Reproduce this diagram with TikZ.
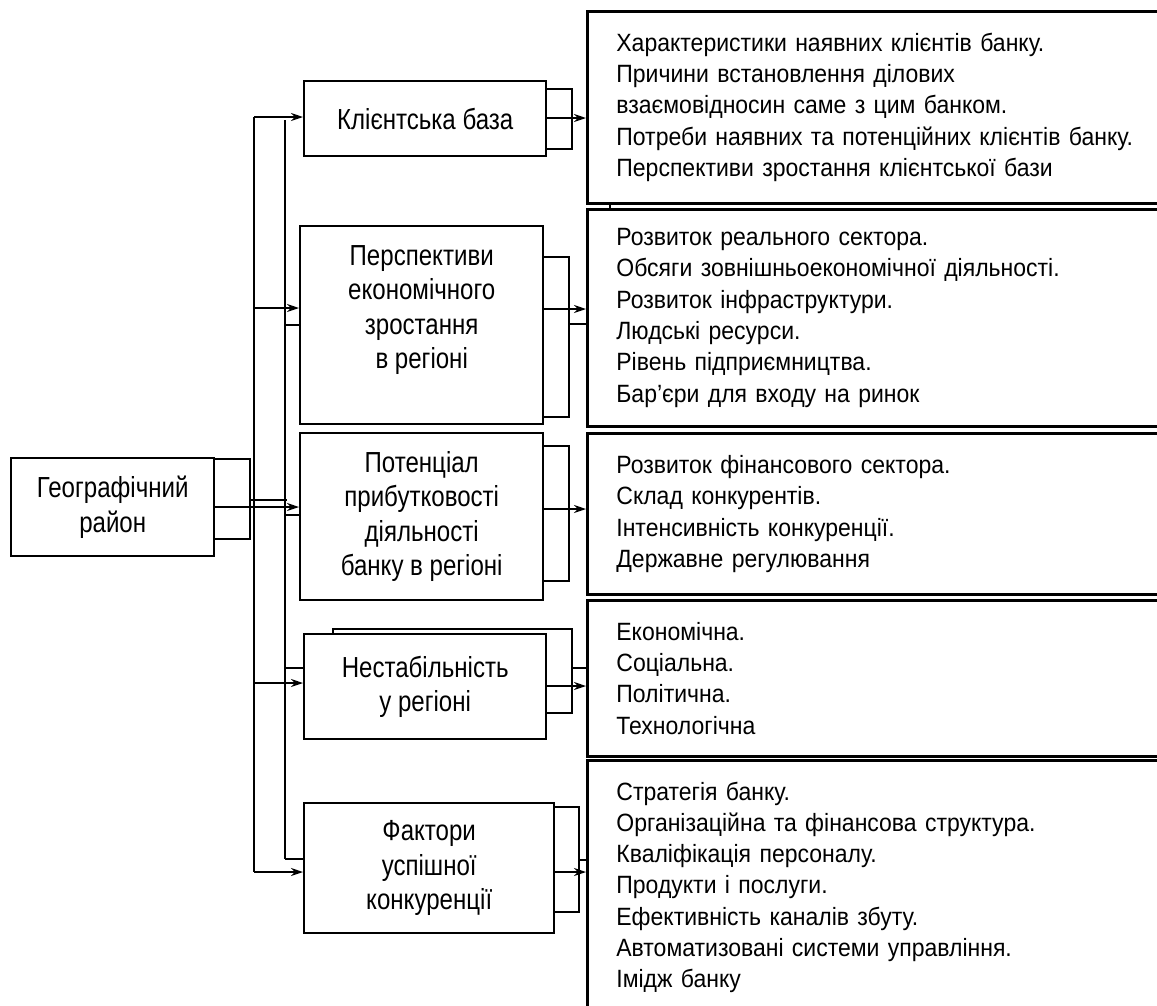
\documentclass[tikz,border=0pt]{standalone}
\usepackage{fontspec}
\setmainfont{Liberation Sans}
\newfontfamily\listfont[FakeStretch=0.92]{Liberation Sans}
\newfontfamily\boxfont[FakeStretch=0.83]{Liberation Sans}
\usetikzlibrary{arrows.meta}

\begin{document}
\begin{tikzpicture}[x=1pt,y=-1pt,line width=2.4pt,
  mbox/.style n args={2}{draw,rectangle,anchor=north west,minimum width=#1,minimum height=#2,inner sep=0pt,align=center,font=\boxfont\fontsize{29pt}{34.5pt}\selectfont},
  lbox/.style n args={1}{draw,rectangle,anchor=north west,line width=2.8pt,minimum width=590,minimum height=#1,text width=532,inner xsep=26pt,inner ysep=0pt,align=left,font=\listfont\fontsize{25pt}{31.3pt}\selectfont},
  arr/.style={-{Stealth[length=12pt,width=8pt,inset=4pt]}}]
\useasboundingbox (0,0) rectangle (1157,1005);
\clip (0,0) rectangle (1157,1005);
% left box and factor boxes
\node[mbox={203}{98}](geo) at(10,457) {Географічний\\район};
\node[mbox={242}{75}](cb) at(303,80) {Клієнтська база};
\node[mbox={243}{198}](ps) at(299,225) {Перспективи\\економічного\\зростання\\в регіоні\\[2pt]};
\node[mbox={243}{167}](pt) at(299,432) {Потенціал\\прибутковості\\діяльності\\банку в регіоні};
\node[mbox={242}{105}](ns) at(303,633) {Нестабільність\\у регіоні};
\node[mbox={250}{130}](fk) at(303,802) {Фактори\\успішної\\конкуренції};
% lists
\node[lbox={192}](ta) at(586,10) {Характеристики наявних клієнтів банку.\\Причини встановлення ділових\\взаємовідносин саме з цим банком.\\Потреби наявних та потенційних клієнтів банку.\\Перспективи зростання клієнтської бази};
\node[lbox={217}](tb) at(586,208) {Розвиток реального сектора.\\Обсяги зовнішньоекономічної діяльності.\\Розвиток інфраструктури.\\Людські ресурси.\\Рівень підприємництва.\\Бар’єри для входу на ринок};
\node[lbox={161}](tc) at(586,432) {Розвиток фінансового сектора.\\Склад конкурентів.\\Інтенсивність конкуренції.\\Державне регулювання};
\node[lbox={156}](td) at(586,599) {Економічна.\\Соціальна.\\Політична.\\Технологічна};
\node[lbox={254}](te) at(586,759) {Стратегія банку.\\Організаційна та фінансова структура.\\Кваліфікація персоналу.\\Продукти і послуги.\\Ефективність каналів збуту.\\Автоматизовані системи управління.\\Імідж банку};
% buses
\coordinate (busA) at (254,117);
\coordinate (busB) at (254,872);
\coordinate (busC) at (285,120);
\coordinate (busD) at (285,859);
\draw (busA) -- (busB);
\draw (busC) -- (busD);
\draw (geo.east |- 0,459) -- (250,459) -- (250,539) -- (geo.east |- 0,539);
\draw (250,500) -- (287,500);
\draw[arr] (geo.east |- 0,507) -- (pt.west |- 0,507);
\foreach \n/\y in %
{cb/117,ps/308,ns/683,fk/872} {
   \draw[arr] (busA |- 0,\y) -- (\n.west |- 0,\y);
}
\foreach \n/\y in %
{ps/325,pt/515,ns/668,fk/859} {
   \draw (busC |- 0,\y) -- (\n.west |- 0,\y);
}
% brackets on the right
\draw (cb.east |- 0,89) -- (572,89) -- (572,149) -- (cb.east |- 0,149);
\draw (ps.east |- 0,257) -- (569,257) -- (569,417) -- (ps.east |- 0,417);
\draw (pt.east |- 0,446) -- (569,446) -- (569,581) -- (pt.east |- 0,581);
\draw (ns.north -| 333,0) -- (333,629) -- (572,629) -- (572,713) -- (ns.east |- 0,713);
\draw (fk.east |- 0,807) -- (579,807) -- (579,912) -- (fk.east |- 0,912);
\draw (569,324) -- (tb.west |- 0,324);
\draw (572,668) -- (td.west |- 0,668);
\draw (579,860) -- (te.west |- 0,860);
\draw (ta.south -| 610,0) -- (tb.north -| 610,0);
\foreach \a/\b/\y in %
{cb/ta/118,ps/tb/309,pt/tc/509,ns/td/686,fk/te/872} {
   \draw[arr] (\a.east |- 0,\y) -- (\b.west |- 0,\y);
}
\end{tikzpicture}
\end{document}
